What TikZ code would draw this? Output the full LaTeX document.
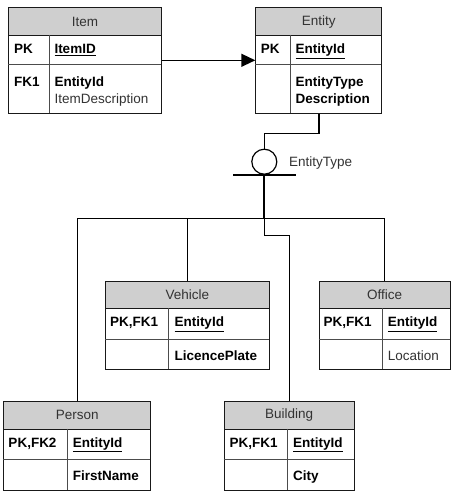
\documentclass[tikz,border=0pt]{standalone}
\usepackage{fontspec}
\setmainfont{Liberation Sans}
\usetikzlibrary{arrows.meta}
\definecolor{hdrgray}{HTML}{CFCFCF}
\definecolor{txtgray}{HTML}{333333}
\begin{document}
\begin{tikzpicture}[x=1pt,y=-1pt,
  font=\fontsize{13.5}{16}\selectfont,
  tbl/.style={draw=black!90, line width=1pt, inner sep=0pt, anchor=north west},
  hdr/.style={draw=black!90, fill=hdrgray, line width=1pt, inner sep=0pt, anchor=north west, text=txtgray},
  div/.style={draw=black!70, line width=0.9pt},
  key/.style={anchor=base west, inner sep=0pt, font=\fontsize{13.5}{16}\selectfont\bfseries},
  fld/.style={anchor=base west, inner sep=0pt, text=txtgray},
  conn/.style={line width=1.4pt}]
\useasboundingbox (0,0) rectangle (457,495);
\fill[white] (0,0) rectangle (457,495);

% ---------- Item ----------
\node[tbl, minimum width=153pt, minimum height=106pt] (item) at (8,7.3) {};
\node[hdr, minimum width=153pt, minimum height=27.7pt] (itemh) at (8,7.3) {Item};
\draw[div] (8,64.3) -- (161,64.3);
\draw[div] (49.3,35) -- (49.3,113.3);
\node[key] (itempk) at (14,53.5) {PK};
\node[key] (itemid) at (54.3,53.5) {\underline{ItemID}};
\node[key] (itemfk) at (14,86.7) {FK1};
\node[key] (itemeid) at (54.3,86.7) {EntityId};
\node[fld] (itemdesc) at (54.3,103.5) {ItemDescription};

% ---------- Entity ----------
\node[tbl, minimum width=126pt, minimum height=106pt] (entity) at (255.3,7.3) {};
\node[hdr, minimum width=126pt, minimum height=27.7pt] (entityh) at (255.3,7.3) {Entity};
\draw[div] (255.3,64.3) -- (381.3,64.3);
\draw[div] (290,35) -- (290,113.3);
\node[key] (entpk) at (260.7,53.5) {PK};
\node[key] (entid) at (295.3,53.5) {\underline{EntityId}};
\node[key] (enttype) at (295.3,86.7) {EntityType};
\node[key] (entdesc) at (295.3,103.5) {Description};

% ---------- Vehicle ----------
\node[tbl, minimum width=163.7pt, minimum height=88.3pt] (vehicle) at (105,280.7) {};
\node[hdr, minimum width=163.7pt, minimum height=27.6pt] (vehicleh) at (105,280.7) {Vehicle};
\draw[div] (105,339) -- (268.7,339);
\draw[div] (168.7,308.3) -- (168.7,369);
\node[key] (vehpk) at (110,326.7) {PK,FK1};
\node[key] (vehid) at (174.3,326.7) {\underline{EntityId}};
\node[key] (vehlp) at (174.3,360) {LicencePlate};

% ---------- Office ----------
\node[tbl, minimum width=131pt, minimum height=88.3pt] (office) at (318.7,280.7) {};
\node[hdr, minimum width=131pt, minimum height=27.6pt] (officeh) at (318.7,280.7) {Office};
\draw[div] (318.7,339) -- (449.7,339);
\draw[div] (382.3,308.3) -- (382.3,369);
\node[key] (offpk) at (323.3,326.7) {PK,FK1};
\node[key] (offid) at (387.7,326.7) {\underline{EntityId}};
\node[fld] (offloc) at (387.7,360) {Location};

% ---------- Person ----------
\node[tbl, minimum width=147pt, minimum height=89pt] (person) at (3.3,401) {};
\node[hdr, minimum width=147pt, minimum height=27.7pt] (personh) at (3.3,401) {Person};
\draw[div] (3.3,459.3) -- (150.3,459.3);
\draw[div] (67,428.7) -- (67,490);
\node[key] (perpk) at (8.3,447.3) {PK,FK2};
\node[key] (perid) at (72.7,447.3) {\underline{EntityId}};
\node[key] (perfn) at (72.7,480.7) {FirstName};

% ---------- Building ----------
\node[tbl, minimum width=130pt, minimum height=89pt] (building) at (223.7,401) {};
\node[hdr, minimum width=130pt, minimum height=27.7pt] (buildingh) at (223.7,401) {Building};
\draw[div] (223.7,459.3) -- (353.7,459.3);
\draw[div] (287.3,428.7) -- (287.3,490);
\node[key] (bldpk) at (229.3,447.3) {PK,FK1};
\node[key] (bldid) at (293,447.3) {\underline{EntityId}};
\node[key] (bldcity) at (293,480.7) {City};

% ---------- Relationship Item -> Entity ----------
\coordinate (arrowy) at (0,60.3);
\draw[conn, -{Triangle[length=14pt,width=13pt]}] (item.east |- arrowy) -- (entity.west |- arrowy);

% ---------- Category (subtype) symbol ----------
\node[circle, draw, line width=1.2pt, minimum size=25pt, inner sep=0pt] (cat) at (264.3,161.7) {};
\node[fld, anchor=base west] (catlabel) at (289,166) {EntityType};
\draw[conn] (entity.south) -- ++(0,19) -| (cat.north);
\draw[conn] ([xshift=-31pt]cat.south) -- ([xshift=31.7pt]cat.south);
\coordinate (hub) at (264.3,218.3);
\draw[line width=1.8pt] (cat.south) -- (hub);
\draw[conn] (person.north) |- (hub);
\draw[conn] (office.north) |- (hub);
\draw[conn] (vehicle.north) -- (vehicle.north |- hub);
\draw[conn] (hub) -- ++(0,17.4) -| (building.north);
\end{tikzpicture}
\end{document}
